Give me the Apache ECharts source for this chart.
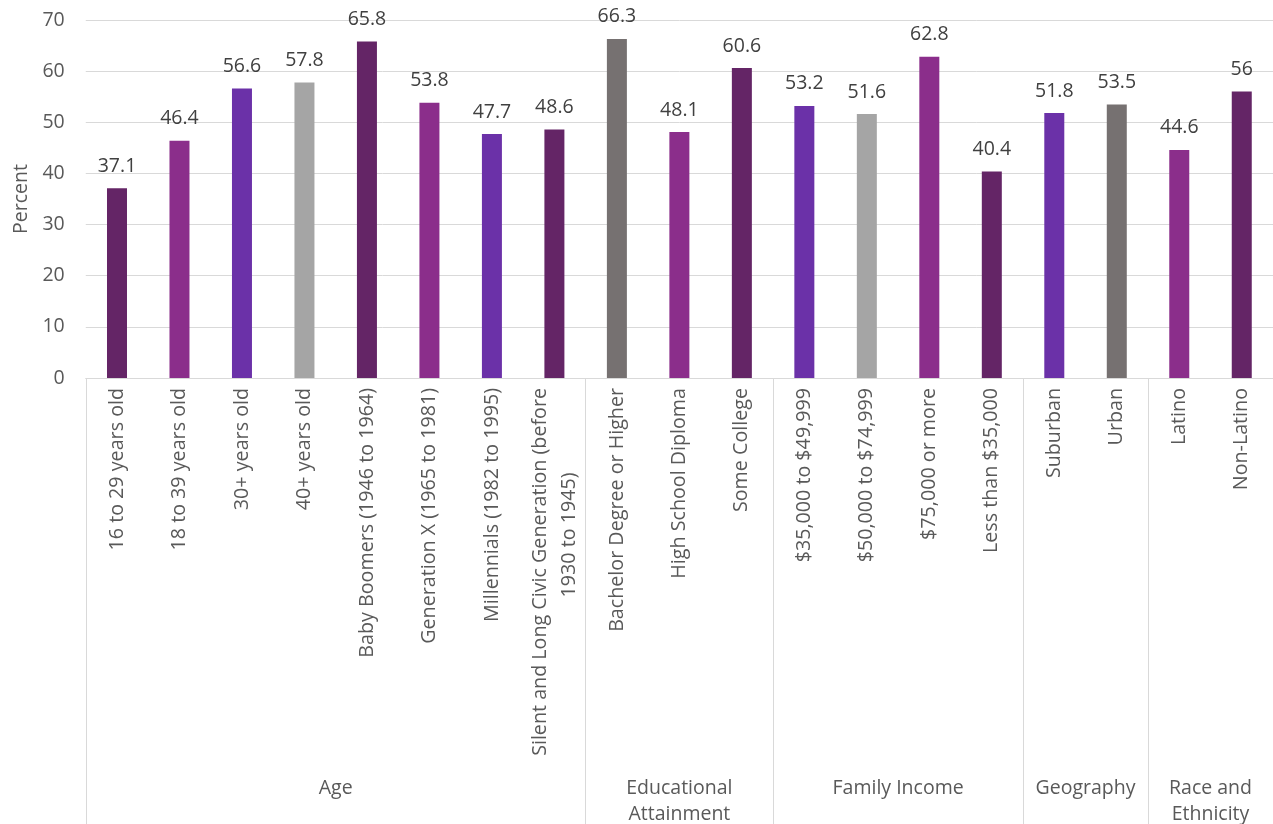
<!DOCTYPE html>
<html>
<head>
<meta charset="utf-8">
<script src="https://cdn.jsdelivr.net/npm/echarts@6/dist/echarts.min.js"></script>
<style>
  html, body { margin: 0; padding: 0; background: #ffffff; }
  #chart { width: 1273px; height: 824px; }
</style>
</head>
<body>
<div id="chart"></div>
<script>
// Category labels (first level) and their percentages
const categories = [
  '16 to 29 years old', '18 to 39 years old', '30+ years old', '40+ years old',
  'Baby Boomers (1946 to 1964)', 'Generation X (1965 to 1981)', 'Millennials (1982 to 1995)',
  'Silent and Long Civic Generation (before\n1930 to 1945)',
  'Bachelor Degree or Higher', 'High School Diploma', 'Some College',
  '$35,000 to $49,999', '$50,000 to $74,999', '$75,000 or more', 'Less than $35,000',
  'Suburban', 'Urban',
  'Latino', 'Non-Latino'
];
const values = [37.1, 46.4, 56.6, 57.8, 65.8, 53.8, 47.7, 48.6, 66.3, 48.1, 60.6, 53.2, 51.6, 62.8, 40.4, 51.8, 53.5, 44.6, 56];

// Second-level grouping
const groups = ['Age', 'Educational\nAttainment', 'Family Income', 'Geography', 'Race and\nEthnicity'];
const groupSizes = [8, 3, 4, 2, 2];

// Y axis scale
const yMin = 0, yMax = 70, yStep = 10;

// Bar fill colours
const DARK = '#642566', MAGENTA = '#8B2E8B', VIOLET = '#6B31A8', LGRAY = '#A5A5A5', DGRAY = '#767171';
const barColors = [DARK, MAGENTA, VIOLET, LGRAY, DARK, MAGENTA, VIOLET, DARK,
                   DGRAY, MAGENTA, DARK,
                   VIOLET, LGRAY, MAGENTA, DARK,
                   VIOLET, DGRAY,
                   MAGENTA, DARK];

// Group boundaries and centres in category units
const bounds = [0];
groupSizes.forEach(s => bounds.push(bounds[bounds.length - 1] + s));
const centers = groupSizes.map((s, i) => bounds[i] + s / 2);
const groupByCenter = {};
centers.forEach((c, i) => { groupByCenter[c] = groups[i]; });

const FONT = '"Open Sans"';
const TXT = '#595959';
const GRID_LINE = '#D9D9D9';
const FS = 19.5;
const FS_CAT = 19.7;

const catLine = { align: 'center', color: TXT, fontFamily: FONT, fontSize: FS_CAT, lineHeight: 29 };

const chart = echarts.init(document.getElementById('chart'), null, { renderer: 'canvas' });
chart.setOption({
  animation: false,
  backgroundColor: '#ffffff',
  grid: { left: 85.75, right: 0, top: 20, bottom: 446, containLabel: false, outerBoundsMode: 'none' },
  xAxis: [
    {
      type: 'category',
      data: categories,
      position: 'bottom',
      axisLine: { show: true, lineStyle: { color: GRID_LINE, width: 1 } },
      axisTick: { show: false },
      axisLabel: {
        interval: 0,
        rotate: 90,
        margin: 10,
        color: TXT,
        fontFamily: FONT,
        fontSize: FS_CAT,
        hideOverlap: false,
        // wrapped continuation lines sit a little toward the axis
        formatter: v => v.split('\n').map((l, i) => (i === 0 ? '{c|' : '{c2|') + l + '}').join('\n'),
        rich: {
          c: catLine,
          c2: Object.assign({}, catLine, { padding: [0, 0, 0, 74] })
        }
      },
      splitLine: { show: false }
    },
    {
      type: 'value',
      min: 0,
      max: categories.length,
      position: 'bottom',
      axisLine: { show: false },
      axisTick: {
        show: true,
        customValues: bounds,
        length: 446,
        lineStyle: { color: GRID_LINE, width: 1 }
      },
      axisLabel: {
        show: true,
        customValues: centers,
        margin: 397,
        color: TXT,
        fontFamily: FONT,
        fontSize: FS,
        lineHeight: 26,
        formatter: v => groupByCenter[v] || ''
      },
      splitLine: { show: false }
    }
  ],
  yAxis: {
    type: 'value',
    min: yMin,
    max: yMax,
    interval: yStep,
    name: 'Percent',
    nameLocation: 'middle',
    nameRotate: 90,
    nameGap: 54,
    nameTextStyle: { color: TXT, fontFamily: FONT, fontSize: FS },
    axisLine: { show: false },
    axisTick: { show: false },
    axisLabel: { color: TXT, fontFamily: FONT, fontSize: FS, margin: 21 },
    splitLine: { lineStyle: { color: GRID_LINE, width: 1 } }
  },
  series: [{
    type: 'bar',
    xAxisIndex: 0,
    barWidth: 20,
    data: values.map((v, i) => ({ value: v, itemStyle: { color: barColors[i] } })),
    label: {
      show: true,
      position: 'top',
      distance: 12,
      color: '#404040',
      fontFamily: FONT,
      fontSize: FS
    }
  }]
});
</script>
</body>
</html>
